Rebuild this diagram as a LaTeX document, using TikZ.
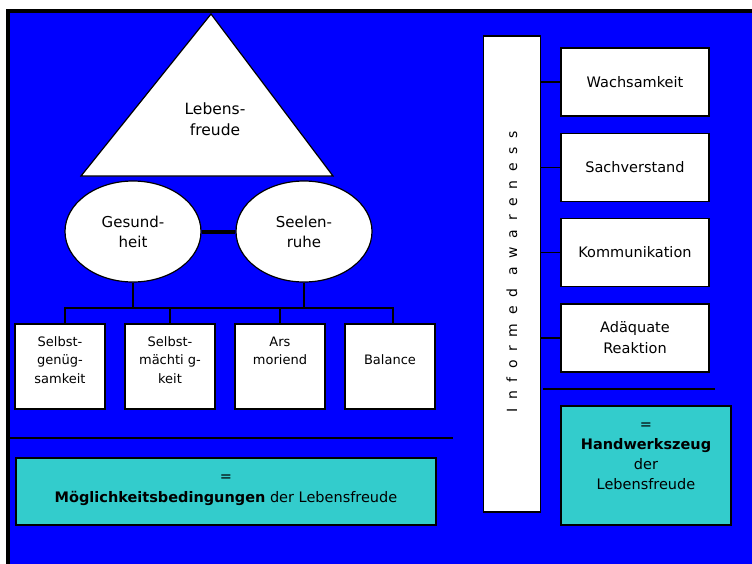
\documentclass[tikz,border=0pt]{standalone}
\usepackage{fontspec}
\setmainfont{DejaVu Sans}
\usepackage{xcolor}
\usepackage{tikz}
\usetikzlibrary{positioning,shapes.geometric}

\definecolor{bgblue}{RGB}{0,0,255}
\definecolor{tealbox}{RGB}{51,204,204}

\tikzset{
  leaf/.style={draw, fill=white, line width=1.2pt, minimum width=90pt, minimum height=85pt},
  leaftext/.style={font=\fontsize{13}{18.5}\selectfont, align=center, inner sep=0pt},
  tool/.style={draw, fill=white, line width=1.2pt, minimum width=148pt, minimum height=68pt,
    font=\fontsize{14.5}{21}\selectfont, align=center},
  oval/.style={ellipse, draw, fill=white, line width=1.2pt, minimum width=136pt, minimum height=101pt,
    font=\fontsize{15}{20}\selectfont, align=center},
  result/.style={draw, fill=tealbox, line width=1.2pt},
  wire/.style={line width=1.3pt}
}

\begin{document}
\begin{tikzpicture}[x=1pt, y=-1pt]
\useasboundingbox (0,0) rectangle (752,563);
\fill[white] (0,0) rectangle (752,563);
\draw[line width=4pt, fill=bgblue] (8,11) rectangle (790,600);

% Lebensfreude
\draw[fill=white, line width=1.2pt] (81,176) -- (211,14) -- (333,176) -- cycle;
\node (lebens) [font=\fontsize{15.5}{21.5}\selectfont, align=center] at (215,119) {Lebens-\\freude};

\node (gesund) [oval] at (133,231.5) {Gesund-\\heit};
\node (seele) [oval] at (304,231.5) {Seelen-\\ruhe};
\draw[line width=4pt] (gesund.east) -- (seele.west);

% Bedingungen
\node (selbstg) [leaf] at (60,366.5) {};
\node (selbstm) [leaf] at (170,366.5) {};
\node (ars) [leaf] at (280,366.5) {};
\node (balance) [leaf] at (390,366.5) {};
\node (selbstgtxt) [leaftext, below=13pt of selbstg.north] {Selbst-\\genüg-\\samkeit};
\node (selbstmtxt) [leaftext, below=13pt of selbstm.north] {Selbst-\\mächti g-\\keit};
\node (arstxt) [leaftext, below=13pt of ars.north] {Ars\\moriend};
\node (balancetxt) [leaftext, below=31pt of balance.north] {Balance};

\coordinate (split) at (0,308);
\coordinate (dropg) at ([xshift=5pt]selbstg.north);
\coordinate (dropb) at ([xshift=3pt]balance.north);
\draw[wire] (gesund.south) -- (gesund.south |- split);
\draw[wire] (seele.south) -- (seele.south |- split);
\draw[wire] (dropg) |- (split -| dropb) -- (dropb);
\draw[wire] (selbstm.north) -- (selbstm.north |- split);
\draw[wire] (ars.north) -- (ars.north |- split);

\draw[wire] (10,438) -- (453,438);
\node (moegl) [result, minimum width=420pt, minimum height=67pt] at (226,491.5) {};
\node (moegltxt) [font=\fontsize{14.5}{21}\selectfont, align=center, inner sep=0pt, below=17pt of moegl.north]
  {=\\\textbf{Möglichkeitsbedingungen} der Lebensfreude};

% Informed awareness
\node (aware) [draw, fill=white, line width=1.2pt, minimum width=57pt, minimum height=476pt] at (512,274) {};
\node (awaretxt) [rotate=90, font=\fontsize{14}{17}\selectfont\addfontfeatures{LetterSpace=62}] at (512,272)
  {Informed awareness};

\node (wach) [tool] at (635,82) {Wachsamkeit};
\node (sach) [tool] at (635,167.5) {Sachverstand};
\node (komm) [tool] at (635,252.5) {Kommunikation};
\node (reakt) [tool] at (635,338) {Adäquate\\Reaktion};
\foreach \t in {wach,sach,komm,reakt}
  \draw[wire] (\t.west) -- (\t.west -| aware.east);

\draw[wire] (543,389) -- (715,389);
\node (handw) [result, minimum width=170pt, minimum height=119pt] at (646,465.5) {};
\node (handwtxt) [font=\fontsize{14.5}{20}\selectfont, align=center, inner sep=0pt, below=17pt of handw.north]
  {=\\\textbf{Handwerkszeug}\\der\\Lebensfreude};
\end{tikzpicture}
\end{document}
